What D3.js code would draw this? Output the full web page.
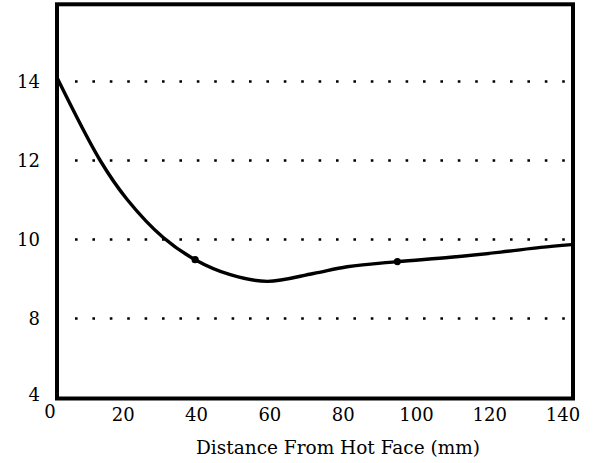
<!DOCTYPE html>
<html>
<head>
<meta charset="utf-8">
<script src="https://cdn.jsdelivr.net/npm/d3@7"></script>
<style>
  html, body { margin: 0; padding: 0; background: #fff; }
  svg { display: block; }
</style>
</head>
<body>
<svg id="chart" width="594" height="463"></svg>
<script>
// ---- data ----
const distance = [1.9, 13.7, 21, 30.9, 39.6, 49.2, 59.3, 71.9, 81.1, 94.8, 109.3, 123, 133.9, 142.3];
const value    = [14.1, 12.0, 11.02, 10.05, 9.49, 9.11, 8.94, 9.14, 9.31, 9.44, 9.55, 9.68, 9.80, 9.87];
const markerIdx = [4, 9];
const xTicks = [0, 20, 40, 60, 80, 100, 120, 140];
const yTicks = [4, 8, 10, 12, 14];
const gridValues = [8, 10, 12, 14];
const xTitle = "Distance From Hot Face (mm)";

const FONT = "'DejaVu Serif', 'Liberation Serif', serif";

// ---- layout ----
const svg = d3.select("#chart");
const frame = { left: 57, right: 573, top: 4.3, bottom: 398.5 };

const x = d3.scaleLinear().domain([0, 140]).range([50, 563]);
// broken axis: 4 sits one grid step below 8
const y = d3.scaleLinear().domain([4, 8, 16]).range([398.5, 318.5, 2.5]);

// gridlines (dotted)
svg.append("g").selectAll("line").data(gridValues).join("line")
  .attr("x1", 75).attr("x2", 568)
  .attr("y1", d => y(d)).attr("y2", d => y(d))
  .attr("stroke", "#000").attr("stroke-width", 2.6)
  .attr("stroke-dasharray", "2.6 14.8");

// curve
const pts = distance.map((d, i) => [d, value[i]]);
const line = d3.line().x(d => x(d[0])).y(d => y(d[1])).curve(d3.curveCatmullRom.alpha(0.5));
svg.append("path").datum(pts)
  .attr("d", line)
  .attr("fill", "none").attr("stroke", "#000").attr("stroke-width", 3.4)
  .attr("stroke-linejoin", "round");

svg.append("g").selectAll("circle").data(markerIdx.map(i => pts[i])).join("circle")
  .attr("cx", d => x(d[0])).attr("cy", d => y(d[1])).attr("r", 3.6).attr("fill", "#000");

// frame
svg.append("rect")
  .attr("x", frame.left).attr("y", frame.top)
  .attr("width", frame.right - frame.left).attr("height", frame.bottom - frame.top)
  .attr("fill", "none").attr("stroke", "#000").attr("stroke-width", 4);

// y tick labels
svg.append("g").selectAll("text").data(yTicks).join("text")
  .attr("x", 40)
  .attr("y", d => d === 4 ? y(d) - 4 : y(d))
  .attr("dy", "0.35em")
  .attr("text-anchor", "end")
  .attr("font-family", FONT)
  .attr("font-size", 18)
  .text(d => d);

// x tick labels
svg.append("g").selectAll("text").data(xTicks).join("text")
  .attr("x", d => x(d))
  .attr("y", d => d === 0 ? 418 : 421)
  .attr("text-anchor", "middle")
  .attr("font-family", FONT)
  .attr("font-size", 18)
  .text(d => d);

// x title
svg.append("text")
  .attr("x", 338).attr("y", 454)
  .attr("text-anchor", "middle")
  .attr("font-family", FONT)
  .attr("font-size", 18.5)
  .text(xTitle);
</script>
</body>
</html>
